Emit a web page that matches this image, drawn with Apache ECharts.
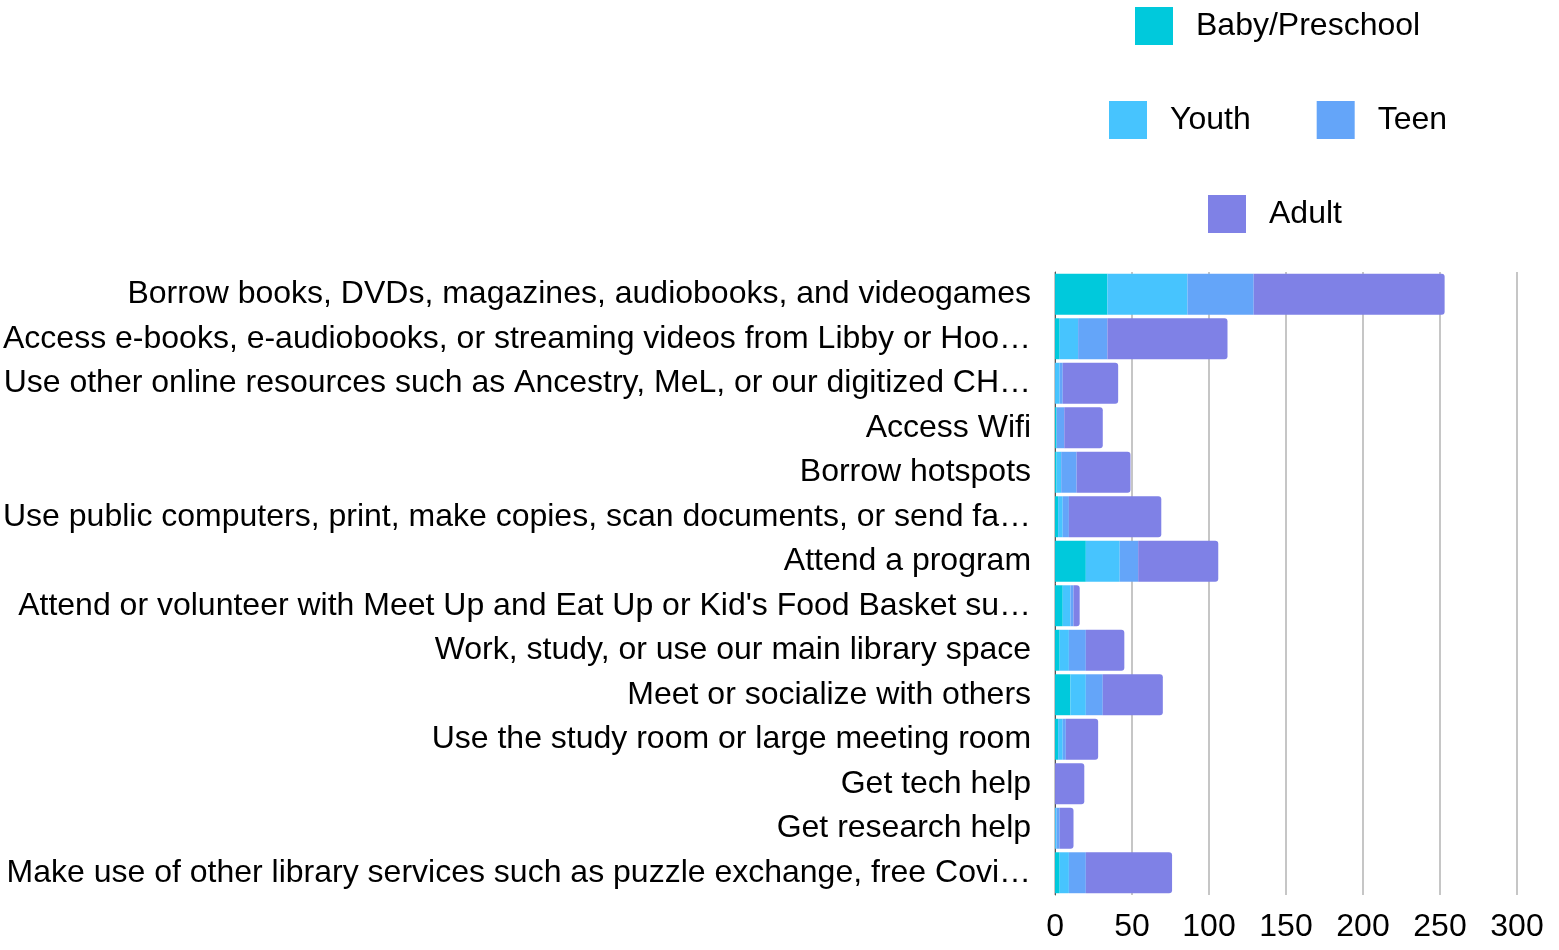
<!DOCTYPE html>
<html>
<head>
<meta charset="utf-8">
<script src="https://cdn.jsdelivr.net/npm/echarts@6/dist/echarts.min.js"></script>
<style>html,body{margin:0;padding:0;background:#fff}#chart{width:1559px;height:950px}</style>
</head>
<body>
<div id="chart"></div>
<script>
const categories = [
  "Borrow books, DVDs, magazines, audiobooks, and videogames",
  "Access e-books, e-audiobooks, or streaming videos from Libby or Hoopla",
  "Use other online resources such as Ancestry, MeL, or our digitized CHS yearbooks",
  "Access Wifi",
  "Borrow hotspots",
  "Use public computers, print, make copies, scan documents, or send faxes",
  "Attend a program",
  "Attend or volunteer with Meet Up and Eat Up or Kid's Food Basket summer meals",
  "Work, study, or use our main library space",
  "Meet or socialize with others",
  "Use the study room or large meeting room",
  "Get tech help",
  "Get research help",
  "Make use of other library services such as puzzle exchange, free Covid tests, or notary"
];
const seriesNames = ["Baby/Preschool", "Youth", "Teen", "Adult"];
const baby  = [34, 3, 0, 1, 1, 2, 20, 5, 3, 10, 2, 0, 0, 3];
const youth = [52, 12, 3, 0, 3, 3, 22, 5, 6, 10, 3, 0, 1, 6];
const teen  = [43, 19, 2, 5, 10, 4, 12, 2, 11, 11, 2, 0, 2, 11];
const adult = [124, 78, 36, 25, 35, 60, 52, 4, 25, 39, 21, 19, 9, 56];
const xTicks = [0, 50, 100, 150, 200, 250, 300];

const colors = ["#00c9dc", "#47c4fe", "#64a5f9", "#7f81e6"];
const font = "'Liberation Sans', Arial, sans-serif";
const values = [baby, youth, teen, adult];

const chart = echarts.init(document.getElementById('chart'), null, {renderer: 'canvas'});
const legendBase = {
  orient: 'horizontal', icon: 'rect', itemWidth: 38, itemHeight: 38,
  itemGap: 66,
  textStyle: {fontSize: 32, fontFamily: font, color: '#000', padding: [0, 0, 0, 18]}
};
chart.setOption({
  animation: false,
  color: colors,
  legend: [
    Object.assign({}, legendBase, {data: [seriesNames[0]], left: 1130, top: 2}),
    Object.assign({}, legendBase, {data: [seriesNames[1], seriesNames[2]], left: 1104, top: 96}),
    Object.assign({}, legendBase, {data: [seriesNames[3]], left: 1203, top: 190})
  ],
  grid: {left: 1054, right: 42, top: 272, bottom: 55, containLabel: false},
  xAxis: {
    type: 'value', min: xTicks[0], max: xTicks[xTicks.length - 1], interval: 50,
    axisLine: {show: false}, axisTick: {show: false},
    splitLine: {show: true, lineStyle: {color: '#c6c6c6', width: 2}},
    axisLabel: {fontSize: 32, fontFamily: font, color: '#000', margin: 16}
  },
  yAxis: {
    type: 'category', data: categories, inverse: true,
    axisLine: {show: true, lineStyle: {color: '#555', width: 1}},
    axisTick: {show: false},
    axisLabel: {fontSize: 32, fontFamily: font, color: '#000', margin: 24,
      width: 1036, overflow: 'truncate', ellipsis: '…'}
  },
  series: seriesNames.map((n, i) => ({
    name: n, type: 'bar', stack: 'total', data: values[i],
    barCategoryGap: '8%',
    itemStyle: {color: colors[i], borderRadius: i === 3 ? [0, 3, 3, 0] : 0}
  }))
});
</script>
</body>
</html>
